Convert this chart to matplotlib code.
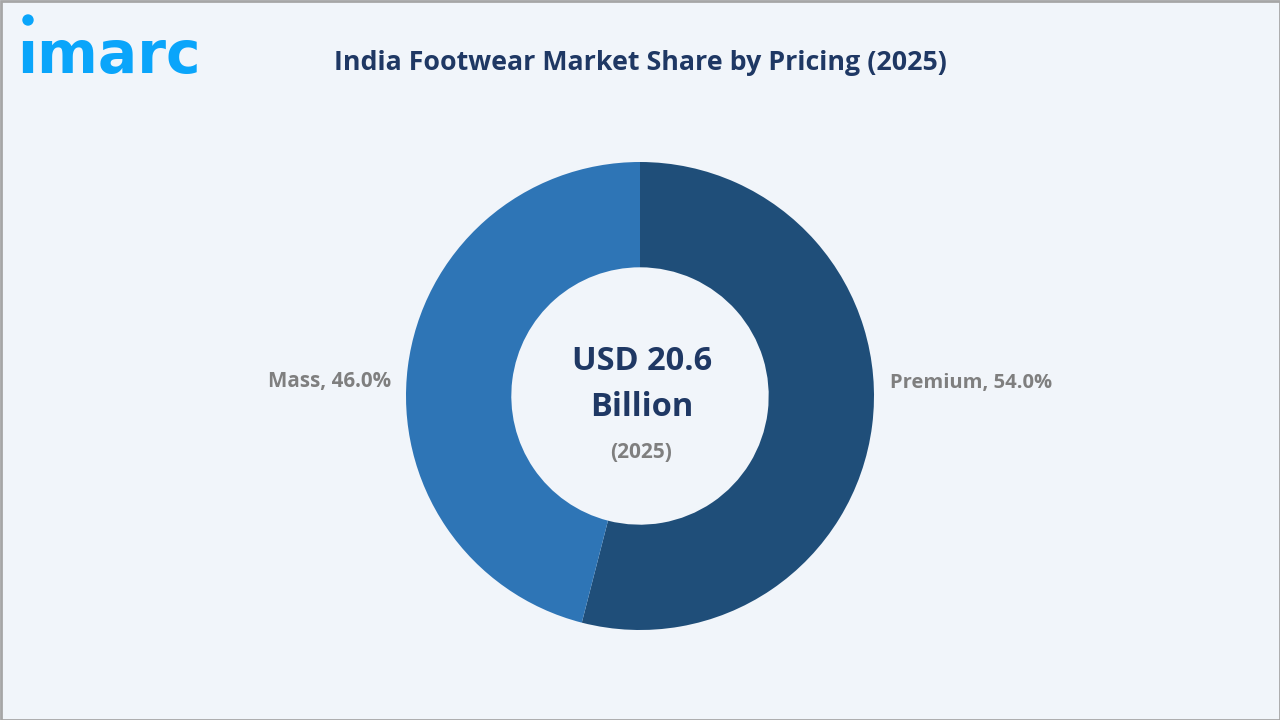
import matplotlib
matplotlib.use("Agg")
import matplotlib.pyplot as plt
from matplotlib.patches import Rectangle, Circle

# chart data
categories = ["Premium", "Mass"]
shares = [54.0, 46.0]
slice_colors = ["#1F4E79", "#2E75B6"]

title = "India Footwear Market Share by Pricing (2025)"
center_value = "USD 20.6"
center_unit = "Billion"
center_year = "(2025)"

plt.rcParams["font.family"] = ["Open Sans", "DejaVu Sans"]

fig = plt.figure(figsize=(12.8, 7.2), dpi=100, facecolor="#F1F5FA")

# whole figure in pixel coordinates, y going down
bg = fig.add_axes([0, 0, 1, 1])
bg.set_xlim(0, 1280)
bg.set_ylim(720, 0)
bg.axis("off")
bg.add_patch(Rectangle((0.5, 0.5), 1279, 719, fill=False, edgecolor="#A6A6A6", linewidth=2))

bg.text(640, 63, title, ha="center", va="center", fontsize=19.3, fontweight="bold", color="#1F3864")

# logo
bg.text(17.5, 56.5, "ımarc", ha="left", va="center", fontsize=42, color="#0AA5FA",
        fontweight="bold", family="DejaVu Sans")
bg.add_patch(Circle((28, 20), 5, color="#0AA5FA"))

# donut, 468 px across, centred on 640,396
ax = fig.add_axes([(640 - 234) / 1280, (720 - 396 - 234) / 720, 468 / 1280, 468 / 720])
wedges, _ = ax.pie(shares, colors=slice_colors, startangle=90, counterclock=False,
                   radius=1.0, wedgeprops=dict(width=0.45))
ax.set_xlim(-1, 1)
ax.set_ylim(-1, 1)

bg.text(971, 383, f"{categories[0]}, {shares[0]:.1f}%", ha="center", va="center",
        fontsize=14.5, fontweight="bold", color="#7F7F7F")
bg.text(329.5, 382, f"{categories[1]}, {shares[1]:.1f}%", ha="center", va="center",
        fontsize=14.8, fontweight="bold", color="#7F7F7F")

bg.text(642, 361, center_value, ha="center", va="center", fontsize=23.5, fontweight="bold", color="#1F3864")
bg.text(642, 407, center_unit, ha="center", va="center", fontsize=23.5, fontweight="bold", color="#1F3864")
bg.text(641, 452, center_year, ha="center", va="center", fontsize=15, fontweight="bold", color="#7F7F7F")

fig.savefig("out.png", dpi=100, facecolor=fig.get_facecolor())
